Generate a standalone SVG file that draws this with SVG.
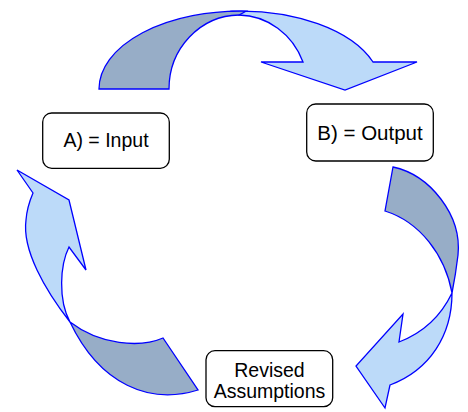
<svg xmlns="http://www.w3.org/2000/svg" width="468" height="412" viewBox="0 0 468 412">
  <style>
    .front { fill: #bcdaf9; stroke: #0000ff; stroke-width: 1.3; stroke-linejoin: miter; }
    .back { fill: #97adc7; stroke: #0000ff; stroke-width: 1.3; stroke-linejoin: miter; }
    .box { fill: #ffffff; stroke: #000000; stroke-width: 1.3; }
    .label { font-family: "Liberation Sans", Arial, sans-serif; font-size: 19.5px; fill: #000000; text-anchor: middle; }
  </style>
  <rect width="468" height="412" fill="#ffffff"/>

  <g id="connectors">
    <!-- top: Input to Output -->
    <g id="arrow-input-output">
      <path class="front" d="M239,15 A70,74 0 0 1 303,62 L261,62 L345,90 L417,62 L373,62 A141,78 0 0 0 232,11.2 Z"/>
      <path class="back" d="M99,89 A141,78 0 0 1 246,11.2 L239,15 A71,74 0 0 0 169,89 Z"/>
    </g>
    <!-- right: Output to Revised Assumptions -->
    <g id="arrow-output-revised">
      <path class="back" d="M393,167 C430,175 462,215 458,255 C456,272 454,283 452,293 C445,255 420,222 385,211 Z"/>
      <path class="front" d="M452,293 C452,335 430,370 390,385 L385,408 L356,366 L403,314 L399,342 C420,334 440,318 452,293 Z"/>
    </g>
    <!-- left: Revised Assumptions to Input -->
    <g id="arrow-revised-input">
      <path class="front" d="M17,170 L69,200 L86,270 L69,247 C60,265 58,300 70,322 C45,290 22,250 26,220 C27,207 30,200 33,193 Z"/>
      <path class="back" d="M70,322 C100,345 140,348 163,338 L198,390 C150,405 100,385 70,322 Z"/>
    </g>
  </g>

  <g id="node-input">
    <rect class="box" x="42.7" y="113" width="126.6" height="55.3" rx="9"/>
    <text class="label" x="106" y="147">A) = Input</text>
  </g>
  <g id="node-output">
    <rect class="box" x="306.7" y="104" width="126.6" height="57" rx="9"/>
    <text class="label" x="370" y="139.5" style="font-size:20.5px">B) = Output</text>
  </g>
  <g id="node-revised">
    <rect class="box" x="206" y="350.7" width="126.7" height="56" rx="9"/>
    <text class="label" x="269.5" y="376.7">Revised</text>
    <text class="label" x="269.5" y="398.3">Assumptions</text>
  </g>
</svg>
